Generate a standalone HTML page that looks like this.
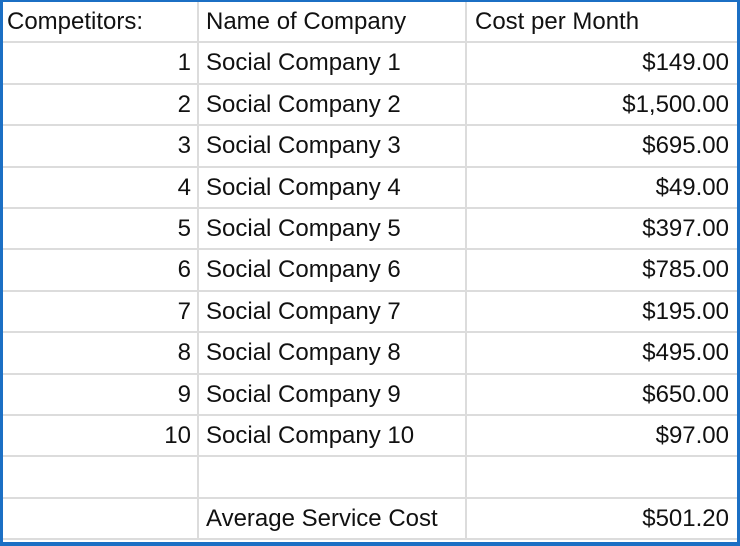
<!DOCTYPE html>
<html><head><meta charset="utf-8"><style>
html,body{margin:0;padding:0;width:740px;height:546px;overflow:hidden;background:#1b6fc4;}
#t{position:absolute;left:3px;top:2px;width:734px;height:540px;background:#fff;font-family:"Liberation Sans",Arial,sans-serif;font-size:24px;color:#111;}
.r{position:absolute;left:0;width:734px;height:41.4px;border-bottom:2px solid #dcdcdc;box-sizing:border-box;}
.c{position:absolute;top:0;height:100%;line-height:40px;box-sizing:border-box;white-space:nowrap;}
.a{left:0;width:196px;border-right:2px solid #dcdcdc;text-align:right;padding-right:6px;}
.b{left:196px;width:268px;border-right:2px solid #dcdcdc;padding-left:7px;}
.d{left:464px;width:270px;text-align:right;padding-right:8px;}
</style></head><body>
<div id="t"></div>
<script>
const nums=["Competitors:","1","2","3","4","5","6","7","8","9","10","",""];
const names=["Name of Company","Social Company 1","Social Company 2","Social Company 3","Social Company 4","Social Company 5","Social Company 6","Social Company 7","Social Company 8","Social Company 9","Social Company 10","","Average Service Cost"];
const costs=["Cost per Month","$149.00","$1,500.00","$695.00","$49.00","$397.00","$785.00","$195.00","$495.00","$650.00","$97.00","","$501.20"];
const t=document.getElementById('t');
for(let i=0;i<nums.length;i++){
 const r=document.createElement('div');r.className='r';r.style.top=(i*41.4)+'px';
 
 
 const vals=[nums[i],names[i],costs[i]],cls=['a','b','d'],nm=['competitor-number','company-name','cost-per-month'];
 for(let j=0;j<3;j++){
  const c=document.createElement('div');c.className='c '+cls[j];c.textContent=vals[j];
  if(i===0&&j===0){c.style.textAlign='left';c.style.paddingLeft='4px';}
  if(i===0&&j===2){c.style.textAlign='left';c.style.paddingLeft='8px';}
  
  
  r.appendChild(c);
 }
 t.appendChild(r);
}
</script>
</body></html>
